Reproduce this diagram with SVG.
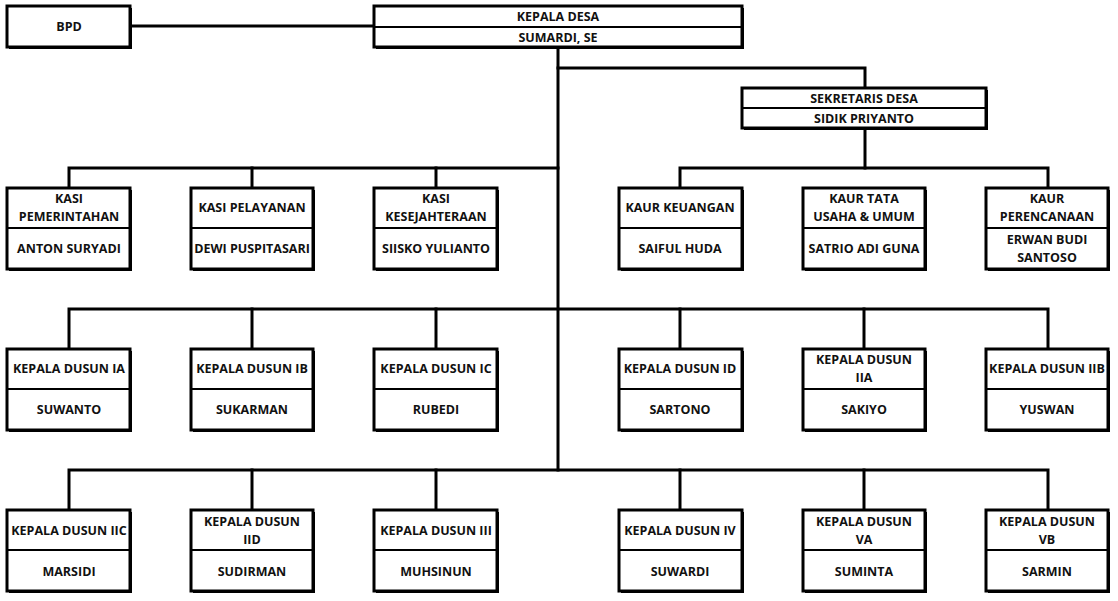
<svg xmlns="http://www.w3.org/2000/svg" width="1118" height="601" viewBox="0 0 1118 601">
  <defs>
    <style>
      .box { fill: #ffffff; stroke: #000000; stroke-width: 3; }
      .shadow { fill: #000000; }
      .div { stroke: #000000; stroke-width: 2; }
      .wire { stroke: #000000; stroke-width: 3; fill: none; stroke-linecap: square; }
      text { font-family: "Open Sans", "Liberation Sans", sans-serif; font-weight: 700; font-size: 12.5px; fill: #111111; text-anchor: middle; }
    </style>
  </defs>
  <rect width="1118" height="601" fill="#ffffff"/>

  <!-- connectors -->
  <g id="connectors">
    <line class="wire" x1="130" y1="26" x2="375" y2="26"/>
    <line class="wire" x1="558" y1="47" x2="558" y2="470"/>
    <polyline class="wire" points="558,68 865,68 865,88"/>
    <line class="wire" x1="865" y1="128" x2="865" y2="168"/>
    <!-- row 1 -->
    <polyline class="wire" points="69,188 69,168 558,168"/>
    <line class="wire" x1="252" y1="168" x2="252" y2="188"/>
    <line class="wire" x1="436" y1="168" x2="436" y2="188"/>
    <polyline class="wire" points="680,188 680,168 1048,168 1048,188"/>
    <!-- row 2 -->
    <polyline class="wire" points="69,349 69,309 1048,309 1048,349"/>
    <line class="wire" x1="252" y1="309" x2="252" y2="349"/>
    <line class="wire" x1="436" y1="309" x2="436" y2="349"/>
    <line class="wire" x1="680" y1="309" x2="680" y2="349"/>
    <line class="wire" x1="864" y1="309" x2="864" y2="349"/>
    <!-- row 3 -->
    <polyline class="wire" points="69,510 69,470 1048,470 1048,510"/>
    <line class="wire" x1="252" y1="470" x2="252" y2="510"/>
    <line class="wire" x1="436" y1="470" x2="436" y2="510"/>
    <line class="wire" x1="680" y1="470" x2="680" y2="510"/>
    <line class="wire" x1="864" y1="470" x2="864" y2="510"/>
  </g>

  <!-- top level -->
  <g id="bpd">
    <rect class="shadow" x="9" y="8" width="123" height="41"/>
    <rect class="box" x="7" y="6" width="123" height="41"/>
    <text x="69" y="31">BPD</text>
  </g>
  <g id="kepala-desa">
    <rect class="shadow" x="376" y="8" width="368" height="41"/>
    <rect class="box" x="374" y="6" width="368" height="41"/>
    <line class="div" x1="374" y1="27" x2="742" y2="27"/>
    <text x="558" y="21">KEPALA DESA</text>
    <text x="558" y="42">SUMARDI, SE</text>
  </g>
  <g id="sekretaris-desa">
    <rect class="shadow" x="744" y="90" width="244" height="40"/>
    <rect class="box" x="742" y="88" width="244" height="40"/>
    <line class="div" x1="742" y1="108" x2="986" y2="108"/>
    <text x="864" y="103">SEKRETARIS DESA</text>
    <text x="864" y="123">SIDIK PRIYANTO</text>
  </g>

  <!-- row 1 -->
  <g id="kasi-pemerintahan">
    <rect class="shadow" x="9" y="190" width="123" height="81"/>
    <rect class="box" x="7" y="188" width="123" height="81"/>
    <line class="div" x1="7" y1="228" x2="130" y2="228"/>
    <text x="69" y="203">KASI</text>
    <text x="69" y="221">PEMERINTAHAN</text>
    <text x="69" y="253">ANTON SURYADI</text>
  </g>
  <g id="kasi-pelayanan">
    <rect class="shadow" x="193" y="190" width="122" height="81"/>
    <rect class="box" x="191" y="188" width="122" height="81"/>
    <line class="div" x1="191" y1="228" x2="313" y2="228"/>
    <text x="252" y="212">KASI PELAYANAN</text>
    <text x="252" y="253">DEWI PUSPITASARI</text>
  </g>
  <g id="kasi-kesejahteraan">
    <rect class="shadow" x="376" y="190" width="123" height="81"/>
    <rect class="box" x="374" y="188" width="123" height="81"/>
    <line class="div" x1="374" y1="228" x2="497" y2="228"/>
    <text x="436" y="203">KASI</text>
    <text x="436" y="221">KESEJAHTERAAN</text>
    <text x="436" y="253">SIISKO YULIANTO</text>
  </g>
  <g id="kaur-keuangan">
    <rect class="shadow" x="621" y="190" width="123" height="81"/>
    <rect class="box" x="619" y="188" width="123" height="81"/>
    <line class="div" x1="619" y1="228" x2="742" y2="228"/>
    <text x="680" y="212">KAUR KEUANGAN</text>
    <text x="680" y="253">SAIFUL HUDA</text>
  </g>
  <g id="kaur-tata-usaha">
    <rect class="shadow" x="805" y="190" width="122" height="81"/>
    <rect class="box" x="803" y="188" width="122" height="81"/>
    <line class="div" x1="803" y1="228" x2="925" y2="228"/>
    <text x="864" y="203">KAUR TATA</text>
    <text x="864" y="221">USAHA &amp; UMUM</text>
    <text x="864" y="253">SATRIO ADI GUNA</text>
  </g>
  <g id="kaur-perencanaan">
    <rect class="shadow" x="988" y="190" width="122" height="81"/>
    <rect class="box" x="986" y="188" width="122" height="81"/>
    <line class="div" x1="986" y1="228" x2="1108" y2="228"/>
    <text x="1047" y="203">KAUR</text>
    <text x="1047" y="221">PERENCANAAN</text>
    <text x="1047" y="244">ERWAN BUDI</text>
    <text x="1047" y="262">SANTOSO</text>
  </g>

  <!-- row 2 -->
  <g id="dusun-ia">
    <rect class="shadow" x="9" y="351" width="123" height="81"/>
    <rect class="box" x="7" y="349" width="123" height="81"/>
    <line class="div" x1="7" y1="389" x2="130" y2="389"/>
    <text x="69" y="373">KEPALA DUSUN IA</text>
    <text x="69" y="414">SUWANTO</text>
  </g>
  <g id="dusun-ib">
    <rect class="shadow" x="193" y="351" width="122" height="81"/>
    <rect class="box" x="191" y="349" width="122" height="81"/>
    <line class="div" x1="191" y1="389" x2="313" y2="389"/>
    <text x="252" y="373">KEPALA DUSUN IB</text>
    <text x="252" y="414">SUKARMAN</text>
  </g>
  <g id="dusun-ic">
    <rect class="shadow" x="376" y="351" width="123" height="81"/>
    <rect class="box" x="374" y="349" width="123" height="81"/>
    <line class="div" x1="374" y1="389" x2="497" y2="389"/>
    <text x="436" y="373">KEPALA DUSUN IC</text>
    <text x="436" y="414">RUBEDI</text>
  </g>
  <g id="dusun-id">
    <rect class="shadow" x="621" y="351" width="123" height="81"/>
    <rect class="box" x="619" y="349" width="123" height="81"/>
    <line class="div" x1="619" y1="389" x2="742" y2="389"/>
    <text x="680" y="373">KEPALA DUSUN ID</text>
    <text x="680" y="414">SARTONO</text>
  </g>
  <g id="dusun-iia">
    <rect class="shadow" x="805" y="351" width="122" height="81"/>
    <rect class="box" x="803" y="349" width="122" height="81"/>
    <line class="div" x1="803" y1="389" x2="925" y2="389"/>
    <text x="864" y="364">KEPALA DUSUN</text>
    <text x="864" y="382">IIA</text>
    <text x="864" y="414">SAKIYO</text>
  </g>
  <g id="dusun-iib">
    <rect class="shadow" x="988" y="351" width="122" height="81"/>
    <rect class="box" x="986" y="349" width="122" height="81"/>
    <line class="div" x1="986" y1="389" x2="1108" y2="389"/>
    <text x="1047" y="373">KEPALA DUSUN IIB</text>
    <text x="1047" y="414">YUSWAN</text>
  </g>

  <!-- row 3 -->
  <g id="dusun-iic">
    <rect class="shadow" x="9" y="512" width="123" height="81"/>
    <rect class="box" x="7" y="510" width="123" height="81"/>
    <line class="div" x1="7" y1="550" x2="130" y2="550"/>
    <text x="69" y="535">KEPALA DUSUN IIC</text>
    <text x="69" y="576">MARSIDI</text>
  </g>
  <g id="dusun-iid">
    <rect class="shadow" x="193" y="512" width="122" height="81"/>
    <rect class="box" x="191" y="510" width="122" height="81"/>
    <line class="div" x1="191" y1="550" x2="313" y2="550"/>
    <text x="252" y="526">KEPALA DUSUN</text>
    <text x="252" y="544">IID</text>
    <text x="252" y="576">SUDIRMAN</text>
  </g>
  <g id="dusun-iii">
    <rect class="shadow" x="376" y="512" width="123" height="81"/>
    <rect class="box" x="374" y="510" width="123" height="81"/>
    <line class="div" x1="374" y1="550" x2="497" y2="550"/>
    <text x="436" y="535">KEPALA DUSUN III</text>
    <text x="436" y="576">MUHSINUN</text>
  </g>
  <g id="dusun-iv">
    <rect class="shadow" x="621" y="512" width="123" height="81"/>
    <rect class="box" x="619" y="510" width="123" height="81"/>
    <line class="div" x1="619" y1="550" x2="742" y2="550"/>
    <text x="680" y="535">KEPALA DUSUN IV</text>
    <text x="680" y="576">SUWARDI</text>
  </g>
  <g id="dusun-va">
    <rect class="shadow" x="805" y="512" width="122" height="81"/>
    <rect class="box" x="803" y="510" width="122" height="81"/>
    <line class="div" x1="803" y1="550" x2="925" y2="550"/>
    <text x="864" y="526">KEPALA DUSUN</text>
    <text x="864" y="544">VA</text>
    <text x="864" y="576">SUMINTA</text>
  </g>
  <g id="dusun-vb">
    <rect class="shadow" x="988" y="512" width="122" height="81"/>
    <rect class="box" x="986" y="510" width="122" height="81"/>
    <line class="div" x1="986" y1="550" x2="1108" y2="550"/>
    <text x="1047" y="526">KEPALA DUSUN</text>
    <text x="1047" y="544">VB</text>
    <text x="1047" y="576">SARMIN</text>
  </g>
</svg>
